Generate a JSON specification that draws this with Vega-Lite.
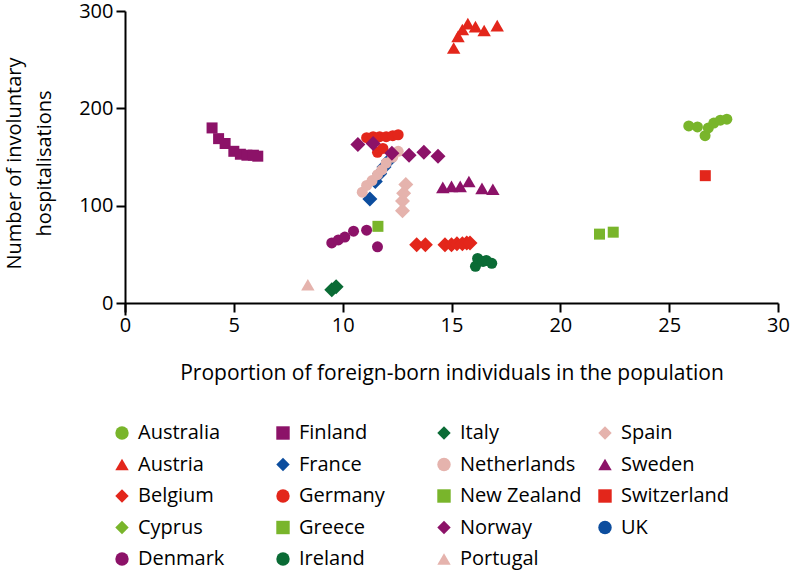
{
  "$schema": "https://vega.github.io/schema/vega-lite/v6.json",
  "width": 653,
  "height": 304,
  "autosize": {"type": "none"},
  "padding": {"left": 125, "top": 11, "right": 12, "bottom": 256},
  "background": "white",
  "config": {
    "view": {"stroke": null},
    "font": "Open Sans",
    "axis": {"grid": false, "domainColor": "black", "domainWidth": 2, "tickColor": "black", "tickWidth": 2, "tickSize": 9, "labelColor": "black", "labelFontSize": 20, "labelFont": "Open Sans", "labelFlush": false, "titleColor": "black", "titleFontSize": 20, "titleFont": "Open Sans", "titleFontWeight": "normal"}
  },
  "data": {"values": [
    {"country": "Finland", "x": 4.0, "y": 180},
    {"country": "Finland", "x": 4.3, "y": 169},
    {"country": "Finland", "x": 4.6, "y": 164},
    {"country": "Finland", "x": 5.0, "y": 156},
    {"country": "Finland", "x": 5.3, "y": 153},
    {"country": "Finland", "x": 5.6, "y": 152},
    {"country": "Finland", "x": 5.9, "y": 152},
    {"country": "Finland", "x": 6.1, "y": 151},
    {"country": "Austria", "x": 15.1, "y": 262},
    {"country": "Austria", "x": 15.3, "y": 274},
    {"country": "Austria", "x": 15.5, "y": 281},
    {"country": "Austria", "x": 15.75, "y": 287},
    {"country": "Austria", "x": 16.1, "y": 284},
    {"country": "Austria", "x": 16.5, "y": 280},
    {"country": "Austria", "x": 17.1, "y": 285},
    {"country": "Australia", "x": 25.9, "y": 182},
    {"country": "Australia", "x": 26.3, "y": 181},
    {"country": "Australia", "x": 26.65, "y": 172},
    {"country": "Australia", "x": 26.8, "y": 180},
    {"country": "Australia", "x": 27.05, "y": 185},
    {"country": "Australia", "x": 27.35, "y": 188},
    {"country": "Australia", "x": 27.65, "y": 189},
    {"country": "Switzerland", "x": 26.66, "y": 131},
    {"country": "New Zealand", "x": 21.8, "y": 71},
    {"country": "New Zealand", "x": 22.43, "y": 73},
    {"country": "Greece", "x": 11.62, "y": 79},
    {"country": "France", "x": 11.25, "y": 107},
    {"country": "France", "x": 11.5, "y": 125},
    {"country": "France", "x": 11.7, "y": 133},
    {"country": "France", "x": 11.9, "y": 140},
    {"country": "France", "x": 12.1, "y": 146},
    {"country": "Germany", "x": 11.1, "y": 170},
    {"country": "Germany", "x": 11.4, "y": 171},
    {"country": "Germany", "x": 11.7, "y": 171},
    {"country": "Germany", "x": 12.0, "y": 171},
    {"country": "Germany", "x": 12.3, "y": 172},
    {"country": "Germany", "x": 12.55, "y": 173},
    {"country": "Germany", "x": 11.6, "y": 155},
    {"country": "Germany", "x": 11.85, "y": 159},
    {"country": "Netherlands", "x": 10.9, "y": 114},
    {"country": "Netherlands", "x": 11.1, "y": 121},
    {"country": "Netherlands", "x": 11.35, "y": 126},
    {"country": "Netherlands", "x": 11.6, "y": 132},
    {"country": "Netherlands", "x": 11.8, "y": 137},
    {"country": "Netherlands", "x": 12.0, "y": 144},
    {"country": "Netherlands", "x": 12.3, "y": 150},
    {"country": "Netherlands", "x": 12.55, "y": 156},
    {"country": "Norway", "x": 10.7, "y": 163},
    {"country": "Norway", "x": 11.4, "y": 164},
    {"country": "Norway", "x": 12.26, "y": 154},
    {"country": "Norway", "x": 13.05, "y": 152},
    {"country": "Norway", "x": 13.73, "y": 155},
    {"country": "Norway", "x": 14.38, "y": 151},
    {"country": "Spain", "x": 12.9, "y": 122},
    {"country": "Spain", "x": 12.8, "y": 113},
    {"country": "Spain", "x": 12.75, "y": 105},
    {"country": "Spain", "x": 12.75, "y": 95},
    {"country": "Denmark", "x": 9.5, "y": 62},
    {"country": "Denmark", "x": 9.8, "y": 65},
    {"country": "Denmark", "x": 10.1, "y": 68},
    {"country": "Denmark", "x": 10.5, "y": 74},
    {"country": "Denmark", "x": 11.1, "y": 75},
    {"country": "Denmark", "x": 11.6, "y": 58},
    {"country": "Portugal", "x": 8.4, "y": 19},
    {"country": "Italy", "x": 9.5, "y": 14},
    {"country": "Italy", "x": 9.7, "y": 17},
    {"country": "Sweden", "x": 14.6, "y": 119},
    {"country": "Sweden", "x": 15.0, "y": 120},
    {"country": "Sweden", "x": 15.4, "y": 120},
    {"country": "Sweden", "x": 15.8, "y": 125},
    {"country": "Sweden", "x": 16.4, "y": 118},
    {"country": "Sweden", "x": 16.9, "y": 117},
    {"country": "Belgium", "x": 13.4, "y": 60},
    {"country": "Belgium", "x": 13.8, "y": 60},
    {"country": "Belgium", "x": 14.7, "y": 60},
    {"country": "Belgium", "x": 15.0, "y": 60},
    {"country": "Belgium", "x": 15.25, "y": 61},
    {"country": "Belgium", "x": 15.5, "y": 61},
    {"country": "Belgium", "x": 15.7, "y": 62},
    {"country": "Belgium", "x": 15.85, "y": 62},
    {"country": "Ireland", "x": 16.1, "y": 38},
    {"country": "Ireland", "x": 16.2, "y": 46},
    {"country": "Ireland", "x": 16.45, "y": 43},
    {"country": "Ireland", "x": 16.6, "y": 44},
    {"country": "Ireland", "x": 16.85, "y": 41}
  ]},
  "mark": {"type": "point", "filled": true, "opacity": 1, "strokeWidth": 0},
  "encoding": {
    "x": {"field": "x", "type": "quantitative", "scale": {"domain": [0, 30], "nice": false}, "axis": {"values": [0, 5, 10, 15, 20, 25, 30], "title": "Proportion of foreign-born individuals in the population", "titleFontSize": 21, "labelPadding": 3, "titlePadding": 27, "offset": -12}},
    "y": {"field": "y", "type": "quantitative", "scale": {"domain": [-12, 300], "nice": false, "zero": false}, "axis": {"values": [0, 100, 200, 300], "title": ["Number of involuntary", "hospitalisations"], "labelPadding": 3, "titlePadding": 24, "titleLineHeight": 30}},
    "color": {"field": "country", "type": "nominal", "scale": {
      "domain": ["Australia", "Austria", "Belgium", "Cyprus", "Denmark", "Finland", "France", "Germany", "Greece", "Ireland", "Italy", "Netherlands", "New Zealand", "Norway", "Portugal", "Spain", "Sweden", "Switzerland", "UK"],
      "range": ["#79b52b", "#e3261b", "#e3261b", "#79b52b", "#8c1268", "#8c1268", "#0c4d9e", "#e3261b", "#79b52b", "#0a6b35", "#0a6b35", "#e5b3ad", "#79b52b", "#8c1268", "#e5b3ad", "#e5b3ad", "#8c1268", "#e3261b", "#0c4d9e"]},
      "legend": {"title": null, "orient": "none", "legendX": -13, "legendY": 412, "columns": 4, "gridAlign": "all", "columnPadding": 13, "rowPadding": 11.5, "labelFontSize": 20, "labelFont": "Open Sans", "labelColor": "black", "labelOffset": 6, "symbolSize": 180, "symbolStrokeWidth": 0,
        "encode": {"symbols": {"update": {"size": {"signal": "indexof(['Italy','Spain','France','Belgium','Cyprus','Norway'], datum.value) >= 0 ? 290 : (indexof(['Austria','Sweden','Portugal'], datum.value) >= 0 ? 240 : 180)"}}}}}},
    "shape": {"field": "country", "type": "nominal", "scale": {
      "domain": ["Australia", "Austria", "Belgium", "Cyprus", "Denmark", "Finland", "France", "Germany", "Greece", "Ireland", "Italy", "Netherlands", "New Zealand", "Norway", "Portugal", "Spain", "Sweden", "Switzerland", "UK"],
      "range": ["circle", "triangle-up", "diamond", "diamond", "circle", "square", "diamond", "circle", "square", "circle", "diamond", "circle", "square", "diamond", "triangle-up", "diamond", "triangle-up", "square", "circle"]}},
    "size": {"condition": [
      {"test": "indexof(['Italy','Spain','France','Belgium','Cyprus','Norway'], datum.country) >= 0", "value": 225},
      {"test": "indexof(['Austria','Sweden','Portugal'], datum.country) >= 0", "value": 180}
    ], "value": 121}
  }
}
